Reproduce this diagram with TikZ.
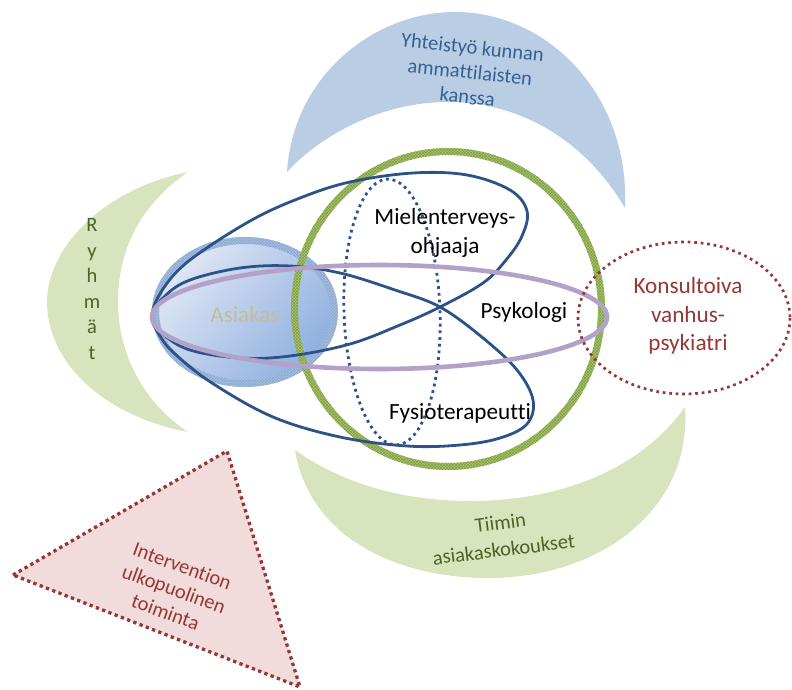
\documentclass[tikz,border=0pt]{standalone}
\usepackage{fontspec}
\setmainfont{Carlito}[Ligatures={NoCommon}]
\usetikzlibrary{patterns}
\definecolor{bluemoon}{RGB}{185,205,229}
\definecolor{greenmoon}{RGB}{215,228,189}
\definecolor{trifill}{RGB}{242,220,219}
\definecolor{darkred}{RGB}{149,55,53}
\definecolor{olive}{RGB}{79,98,40}
\definecolor{textblue}{RGB}{55,96,146}
\definecolor{ellblue}{RGB}{44,82,135}
\definecolor{lilac}{RGB}{179,162,199}
\definecolor{ringgreen}{RGB}{168,195,115}
\definecolor{ringgreendark}{RGB}{130,160,65}
\definecolor{asiring}{RGB}{168,192,224}
\definecolor{asiringdark}{RGB}{140,170,210}
\definecolor{asilight}{RGB}{222,230,244}
\definecolor{asidark}{RGB}{145,176,224}
\definecolor{asitext}{RGB}{196,189,151}
\tikzset{
  lbl/.style={inner sep=0pt, align=center, font=\fontsize{23.2}{28.5}\selectfont},
  moonlbl/.style={inner sep=0pt, align=center, font=\fontsize{20.5}{25}\selectfont},
  blueline/.style={draw=ellblue, line width=2.8pt},
  dotline/.style={line width=2.8pt, dash pattern=on 2.8pt off 3.9pt},
}
\begin{document}
\begin{tikzpicture}[x=1pt,y=-1pt]
\useasboundingbox (0,0) rectangle (792,690);

% top blue crescent
\fill[bluemoon] (287,172) .. controls (293,75) and (375,12) .. (455,12)
  .. controls (548,12) and (630,95) .. (625,208)
  .. controls (585,140) and (520,102) .. (448,102)
  .. controls (378,102) and (318,138) .. (287,172) -- cycle;

% left green crescent
\fill[greenmoon] (188,172) .. controls (100,190) and (47,250) .. (47,302)
  .. controls (47,360) and (100,415) .. (188,432)
  .. controls (140,400) and (118,350) .. (118,302)
  .. controls (118,250) and (140,205) .. (188,172) -- cycle;

% bottom green crescent
\fill[greenmoon] (295,450) .. controls (310,540) and (400,578) .. (488,578)
  .. controls (600,578) and (692,510) .. (685,407)
  .. controls (640,470) and (560,501) .. (470,501)
  .. controls (400,501) and (340,482) .. (295,450) -- cycle;

% triangle
\filldraw[fill=trifill, draw=darkred, line width=3.3pt, dash pattern=on 3.3pt off 3.4pt]
  (13,575) -- (227,451) -- (300,687) -- cycle;

% Asiakas ellipse
\fill[top color=asilight, bottom color=asidark, shading angle=50] (245,312) ellipse [x radius=87, y radius=69];
\fill[asiring, even odd rule] (245,312) ellipse [x radius=93, y radius=75]
  (245,312) ellipse [x radius=86, y radius=68];
\fill[pattern=crosshatch, pattern color=asiringdark, even odd rule] (245,312) ellipse [x radius=93, y radius=75]
  (245,312) ellipse [x radius=86, y radius=68];

% big green ring
\fill[ringgreen, even odd rule] (448,309) ellipse [x radius=157, y radius=161]
  (448,309) ellipse [x radius=150, y radius=154];
\fill[pattern=crosshatch, pattern color=ringgreendark, even odd rule] (448,309) ellipse [x radius=157, y radius=161]
  (448,309) ellipse [x radius=150, y radius=154];

% upper dark blue ellipse
\draw[blueline] plot[smooth cycle, tension=0.6] coordinates {
 (152,316) (163,289) (190,260) (250,221) (300,198) (350,182) (413,173) (467,175)
 (510,190) (527,211) (522,236) (506,260) (483,283) (440,307) (400,325) (350,344)
 (290,356) (240,358) (190,350) (163,334)};

% lower dark blue ellipse
\draw[blueline] plot[smooth cycle, tension=0.6] coordinates {
 (152,316) (165,296) (190,280) (240,268) (290,266) (340,273) (395,290) (440,307)
 (483,338) (517,370) (533,400) (527,424) (500,438) (460,445) (407,446) (340,437)
 (273,417) (212,383) (175,354) (160,336)};

% dotted vertical ellipse
\draw[ellblue, dotline, rotate around={2:(392,312)}] (392,312) ellipse [x radius=48, y radius=133];

% purple ellipse
\draw[lilac, line width=4.6pt] (379.5,317) ellipse [x radius=227.5, y radius=52];

% red dotted ellipse
\draw[darkred, line width=2.7pt, dash pattern=on 2.7pt off 3.8pt] (684,318) ellipse [x radius=106, y radius=76];

% texts
\node[moonlbl, text=textblue, rotate=-6] (yht) at (470,72)
  {Yhteistyö kunnan\\ammattilaisten\\kanssa};
\node[moonlbl, text=olive, align=center, font=\fontsize{20.5}{25.5}\selectfont] (ryh) at (92,289)
  {R\\y\\h\\m\\ä\\t};
\node[moonlbl, text=olive, rotate=7, font=\fontsize{20.5}{27}\selectfont] (tii) at (502,536)
  {Tiimin\\asiakaskokoukset};
\node[moonlbl, text=darkred, rotate=-20, font=\fontsize{20.5}{24.5}\selectfont] (int) at (174,589)
  {Intervention\\ulkopuolinen\\toiminta};
\node[lbl, text=asitext] (asi) at (245,315) {Asiakas};
\node[lbl] (mie) at (445,233) {Mielenterveys-\\ohjaaja};
\node[lbl] (psy) at (524,312) {Psykologi};
\node[lbl] (fys) at (460,413) {Fysioterapeutti};
\node[lbl, text=darkred] (kon) at (688,316) {Konsultoiva\\vanhus-\\psykiatri};
\end{tikzpicture}
\end{document}
